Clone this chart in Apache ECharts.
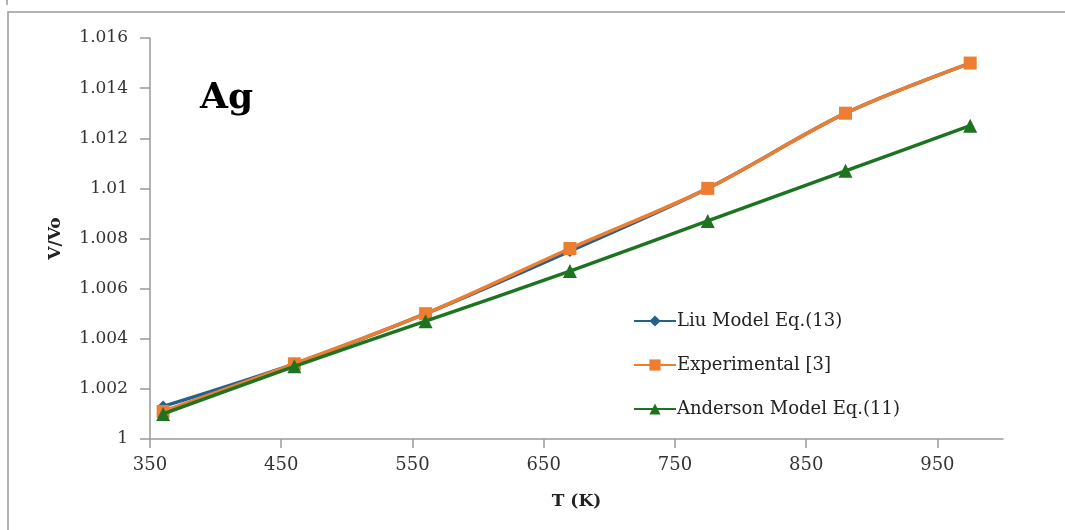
<!DOCTYPE html>
<html><head><meta charset="utf-8">
<script src="https://cdn.jsdelivr.net/npm/echarts@6/dist/echarts.min.js"></script>
<style>html,body{margin:0;padding:0;background:#fff}#c{width:1065px;height:530px}</style>
</head><body><div id="c"></div>
<script>
const temps = [360, 460, 560, 670, 775, 880, 975];
const liu = [1.0013, 1.0030, 1.0050, 1.0075, 1.0100, 1.0130, 1.0150];
const experimental = [1.0011, 1.0030, 1.0050, 1.0076, 1.0100, 1.0130, 1.0150];
const anderson = [1.0010, 1.0029, 1.0047, 1.0067, 1.0087, 1.0107, 1.0125];
const xTicks = [350, 450, 550, 650, 750, 850, 950];
const seriesNames = ['Liu Model Eq.(13)', 'Experimental [3]', 'Anderson Model Eq.(11)'];

const font = 'DejaVu Serif';
const pair = arr => temps.map((t, i) => [t, arr[i]]);
const chart = echarts.init(document.getElementById('c'));
chart.setOption({
  animation: false,
  textStyle: {fontFamily: font},
  grid: {left: 150, right: 62, top: 38, bottom: 91},
  xAxis: {
    type: 'value', min: 350, max: 1000, interval: 100,
    name: 'T (K)', nameLocation: 'middle', nameGap: 54,
    nameTextStyle: {fontFamily: font, fontWeight: 'bold', fontSize: 17, color: '#222'},
    axisLine: {lineStyle: {color: '#9a9a9a', width: 1.5}},
    axisTick: {show: true, length: 9, lineStyle: {color: '#9a9a9a', width: 1.5}, customValues: xTicks},
    axisLabel: {color: '#333', fontSize: 18, margin: 17, customValues: xTicks},
    splitLine: {show: false}
  },
  yAxis: {
    type: 'value', min: 1, max: 1.016, interval: 0.002,
    name: 'V/Vo', nameLocation: 'middle', nameGap: 86, nameRotate: 90,
    nameTextStyle: {fontFamily: font, fontWeight: 'bold', fontSize: 17, color: '#222'},
    axisLine: {show: true, lineStyle: {color: '#9a9a9a', width: 1.5}},
    axisTick: {show: true, length: 10, lineStyle: {color: '#9a9a9a', width: 1.5}},
    axisLabel: {color: '#333', fontSize: 17, margin: 22, formatter: v => String(+v.toFixed(3))},
    splitLine: {show: false}
  },
  legend: {
    orient: 'vertical', left: 628, top: 307, itemGap: 26, itemWidth: 42, itemHeight: 14,
    textStyle: {fontFamily: font, fontSize: 18, color: '#222', padding: [0, 0, 0, -4]},
    data: seriesNames
  },
  graphic: [
    {type: 'rect', shape: {x: 8, y: 12, width: 1100, height: 600}, style: {fill: 'none', stroke: '#9a9a9a', lineWidth: 1.5}, silent: true},
    {type: 'line', shape: {x1: 7, y1: 0, x2: 7, y2: 5}, style: {stroke: '#9a9a9a', lineWidth: 1.5}, silent: true},
    {type: 'text', left: 200, top: 81, style: {text: 'Ag', font: 'bold 36px "DejaVu Serif"', fill: '#000'}}
  ],
  series: [
    {name: seriesNames[0], type: 'line', data: pair(liu), smooth: 0.3, symbol: 'diamond', symbolSize: 12,
     itemStyle: {color: '#23628f'}, lineStyle: {width: 3.5, color: '#23628f'}, z: 2},
    {name: seriesNames[1], type: 'line', data: pair(experimental), smooth: 0.3, symbol: 'rect', symbolSize: 13,
     itemStyle: {color: '#ed7d31'}, lineStyle: {width: 3.5, color: '#ed7d31'}, z: 3},
    {name: seriesNames[2], type: 'line', data: pair(anderson), smooth: 0.3, symbol: 'triangle', symbolSize: 14,
     itemStyle: {color: '#1d7420'}, lineStyle: {width: 3.5, color: '#1d7420'}, z: 4}
  ]
});
</script></body></html>
